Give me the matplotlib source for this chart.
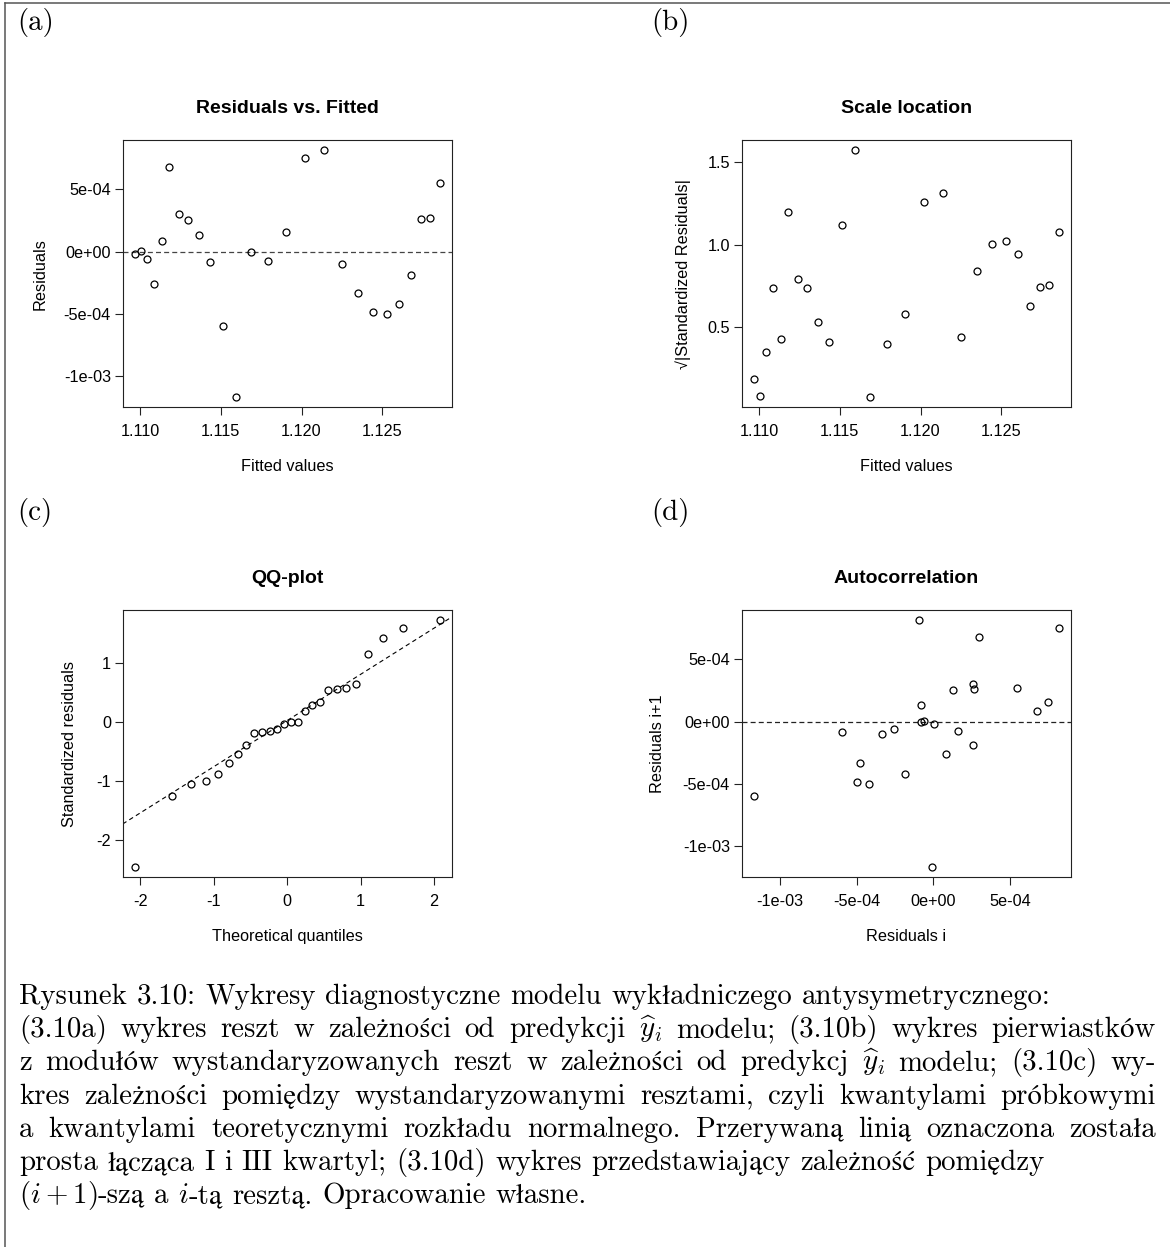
import re

import matplotlib
matplotlib.use("Agg")
import matplotlib.pyplot as plt
import numpy as np
from matplotlib.lines import Line2D
from matplotlib.ticker import FixedLocator, FuncFormatter

W, H, DPI = 1170, 1247, 100

# -- data --
fitted = [1.10969, 1.11006, 1.11045, 1.11086, 1.11134, 1.11183, 1.11239,
          1.11298, 1.11364, 1.11434, 1.11512, 1.11597, 1.11689, 1.11790,
          1.11901, 1.12021, 1.12140, 1.12251, 1.12350, 1.12442, 1.12527,
          1.12603, 1.12675, 1.12739, 1.12798, 1.12854]
residuals = [-0.19e-4, 0.03e-4, -0.62e-4, -2.59e-4, 0.86e-4, 6.77e-4, 2.99e-4,
             2.57e-4, 1.31e-4, -0.80e-4, -5.94e-4, -11.71e-4, -0.05e-4,
             -0.78e-4, 1.60e-4, 7.51e-4, 8.18e-4, -0.96e-4, -3.34e-4,
             -4.81e-4, -5.00e-4, -4.22e-4, -1.87e-4, 2.59e-4, 2.67e-4, 5.48e-4]
sqrt_std_resid = [0.185, 0.082, 0.353, 0.739, 0.432, 1.197, 0.793, 0.735,
                  0.530, 0.408, 1.118, 1.572, 0.076, 0.400, 0.582, 1.259,
                  1.313, 0.444, 0.839, 1.006, 1.024, 0.944, 0.627, 0.741,
                  0.753, 1.074]
qq_theoretical = [-2.075, -1.572, -1.305, -1.105, -0.942, -0.797, -0.670,
                  -0.557, -0.448, -0.340, -0.240, -0.140, -0.041, 0.050,
                  0.145, 0.240, 0.344, 0.448, 0.562, 0.675, 0.802, 0.942,
                  1.105, 1.309, 1.576, 2.075]
qq_sample = [-2.459, -1.244, -1.047, -1.002, -0.884, -0.698, -0.540, -0.383,
             -0.191, -0.163, -0.152, -0.118, -0.034, 0.000, 0.006, 0.186,
             0.287, 0.343, 0.540, 0.557, 0.574, 0.636, 1.159, 1.429, 1.587,
             1.728]

fitted_ticks = [1.110, 1.115, 1.120, 1.125]
resid_ticks = [-1e-3, -5e-4, 0.0, 5e-4]
scale_ticks = [0.5, 1.0, 1.5]
qq_x_ticks = [-2, -1, 0, 1, 2]
qq_y_ticks = [-2, -1, 0, 1]

caption_lines = [
    ("Rysunek 3.10: Wykresy diagnostyczne modelu wykładniczego antysymetrycznego:", False),
    (r"(3.10a) wykres reszt w zależności od predykcji $\widehat{y}_i$ modelu; (3.10b) wykres pierwiastków", True),
    (r"z modułów wystandaryzowanych reszt w zależności od predykcj $\widehat{y}_i$ modelu; (3.10c) wy-", True),
    ("kres zależności pomiędzy wystandaryzowanymi resztami, czyli kwantylami próbkowymi", True),
    ("a kwantylami teoretycznymi rozkładu normalnego. Przerywaną linią oznaczona została", True),
    ("prosta łącząca I i III kwartyl; (3.10d) wykres przedstawiający zależność pomiędzy", False),
    (r"$(i+1)$-szą a $i$-tą resztą. Opracowanie własne.", False),
]

SANS = ["Liberation Sans", "DejaVu Sans"]
SERIF = ["cmr10", "STIXGeneral", "DejaVu Serif"]
INK = "#222222"

plt.rcParams.update({
    "font.family": SANS,
    "axes.unicode_minus": False,
    "mathtext.fontset": "cm",
})


def fx(x):
    return x / W


def fy(y):
    return 1 - y / H


def r_lim(v):
    # R's default 4% expansion of the data range
    lo, hi = min(v), max(v)
    pad = 0.04 * (hi - lo)
    return lo - pad, hi + pad


fig = plt.figure(figsize=(W / DPI, H / DPI), dpi=DPI)
fig.patch.set_facecolor("white")

AX_W, AX_H = 329.0, 267.3
LEFT = [122.7, 741.7]
TOP = [140.0, 610.0]
ROW_SHIFT = 470


def make_axes(col, row):
    x0, y0 = LEFT[col], TOP[row]
    ax = fig.add_axes([fx(x0), fy(y0 + AX_H), AX_W / W, AX_H / H])
    for s in ax.spines.values():
        s.set_linewidth(0.8)
        s.set_color(INK)
    ax.tick_params(direction="out", length=5.5, width=0.8, labelsize=11.7,
                   color=INK, labelcolor="black")
    ax.tick_params(axis="x", pad=6.5)
    ax.tick_params(axis="y", pad=3)
    return ax


def set_ticks(ax, xt, xfmt, yt, yfmt):
    ax.xaxis.set_major_locator(FixedLocator(xt))
    ax.xaxis.set_major_formatter(FuncFormatter(xfmt))
    ax.yaxis.set_major_locator(FixedLocator(yt))
    ax.yaxis.set_major_formatter(FuncFormatter(yfmt))


def labels(col, row, title, xlabel, ylabel, ylabel_x):
    cx = LEFT[col] + AX_W / 2
    dy = row * ROW_SHIFT
    fig.text(fx(cx), fy(113 + dy), title, fontsize=14, fontweight="bold",
             ha="center", va="baseline")
    fig.text(fx(cx), fy(471 + dy), xlabel, fontsize=11.7,
             ha="center", va="baseline")
    fig.text(fx(ylabel_x), fy(TOP[row] + AX_H / 2), ylabel, fontsize=11.7,
             rotation=90, ha="center", va="center")


def circles(ax, x, y):
    ax.plot(x, y, "o", ms=5.0, mfc="none", mec="black", mew=0.9,
            linestyle="none", zorder=3)


sci = lambda v, p: f"{v:.0e}"
f3 = lambda v, p: f"{v:.3f}"
f1 = lambda v, p: f"{v:.1f}"
fint = lambda v, p: f"{v:g}"

# (a) residuals vs fitted
ax = make_axes(0, 0)
circles(ax, fitted, residuals)
ax.axhline(0, color="#444444", lw=0.9, ls=(0, (4, 2.5)), zorder=2)
ax.set_xlim(r_lim(fitted))
ax.set_ylim(r_lim(residuals))
set_ticks(ax, fitted_ticks, f3, resid_ticks, sci)
labels(0, 0, "Residuals vs. Fitted", "Fitted values", "Residuals", 40)

# (b) scale location
ax = make_axes(1, 0)
circles(ax, fitted, sqrt_std_resid)
ax.set_xlim(r_lim(fitted))
ax.set_ylim(r_lim(sqrt_std_resid))
set_ticks(ax, fitted_ticks, f3, scale_ticks, f1)
labels(1, 0, "Scale location", "Fitted values",
       "\u221a|Standardized Residuals|", 683)

# (c) QQ plot with line through the quartiles
ax = make_axes(0, 1)
circles(ax, qq_theoretical, qq_sample)
q1, q3 = np.percentile(qq_sample, [25, 75])
z = 0.6744897501960817
slope = (q3 - q1) / (2 * z)
ax.axline((-z, q1), slope=slope, color="black", lw=0.8,
          ls=(0, (4, 3)), zorder=2)
ax.set_xlim(r_lim(qq_theoretical))
ax.set_ylim(r_lim(qq_sample))
set_ticks(ax, qq_x_ticks, fint, qq_y_ticks, fint)
labels(0, 1, "QQ-plot", "Theoretical quantiles", "Standardized residuals", 70)

# (d) lag plot of residuals
lag_x = residuals[1:]
lag_y = residuals[:-1]
ax = make_axes(1, 1)
circles(ax, lag_x, lag_y)
ax.axhline(0, color="#222222", lw=0.9, ls=(0, (4, 2.5)), zorder=2)
ax.set_xlim(r_lim(lag_x))
ax.set_ylim(r_lim(lag_y))
set_ticks(ax, resid_ticks, sci, resid_ticks, sci)
labels(1, 1, "Autocorrelation", "Residuals i", "Residuals i+1", 658)

# sub-figure labels
CAP_SIZE = 20.8
for lab, x, y in [("(a)", 17, 30), ("(b)", 651, 30),
                  ("(c)", 17, 520), ("(d)", 651, 520)]:
    fig.text(fx(x), fy(y), lab, fontsize=CAP_SIZE, family=SERIF,
             ha="left", va="baseline")

# frame (top and left edges)
fig.add_artist(Line2D([fx(5), fx(W)], [fy(2.5), fy(2.5)], color="#555555", lw=1.1))
fig.add_artist(Line2D([fx(5), fx(5)], [fy(2.5), fy(H)], color="#555555", lw=1.1))

# caption, laid out word by word so the middle lines are justified
CAP_LEFT, CAP_RIGHT = 19, 1156
CAP_BASE0, CAP_STEP = 1004, 33.2
em = CAP_SIZE / 72 * DPI
space = 0.333 * em
renderer = fig.canvas.get_renderer()

for i, (line, justify) in enumerate(caption_lines):
    base = CAP_BASE0 + i * CAP_STEP
    words = []
    for word in line.split(" "):
        pieces = []
        for part in re.split(r"(\$[^$]*\$)", word):
            if not part:
                continue
            kw = {} if part.startswith("$") else {"family": SERIF}
            t = fig.text(0, fy(base), part, fontsize=CAP_SIZE,
                         ha="left", va="baseline", **kw)
            pieces.append((t, t.get_window_extent(renderer).width))
        words.append(pieces)
    widths = [sum(w for _, w in p) for p in words]
    if justify and len(words) > 1:
        gap = (CAP_RIGHT - CAP_LEFT - sum(widths)) / (len(words) - 1)
    else:
        gap = space
    x = CAP_LEFT
    for pieces, wsum in zip(words, widths):
        px = x
        for t, w in pieces:
            t.set_x(fx(px))
            px += w
        x += wsum + gap

fig.savefig("out.png", dpi=DPI, facecolor="white")
